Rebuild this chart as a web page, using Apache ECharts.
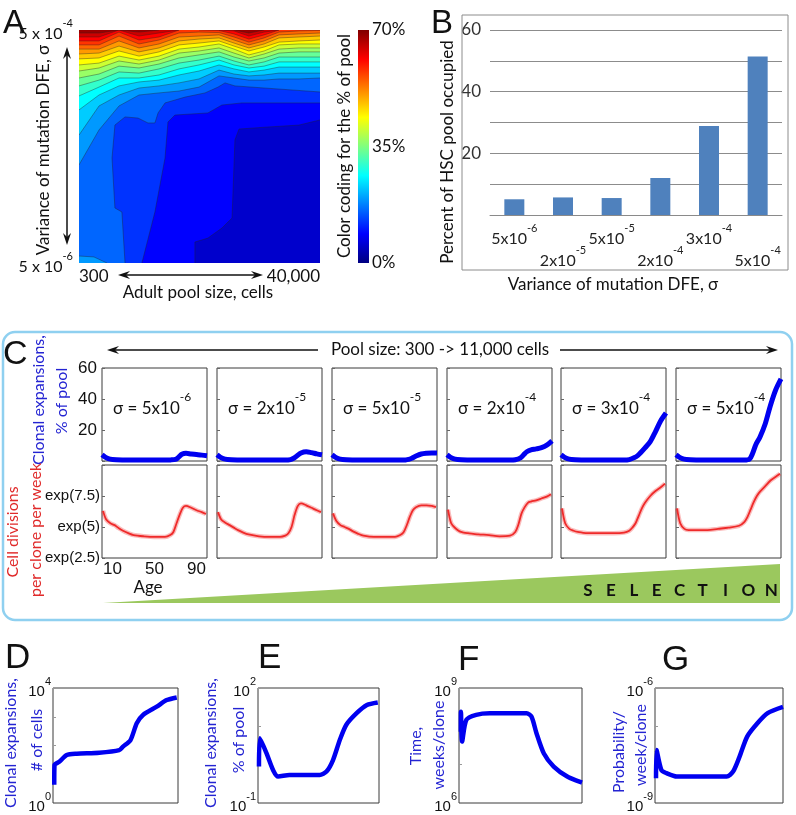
<!DOCTYPE html>
<html><head><meta charset="utf-8">
<script src="https://cdn.jsdelivr.net/npm/echarts@6.0.0/dist/echarts.min.js"></script>
<style>html,body{margin:0;padding:0;background:#fff;}#chart{width:796px;height:815px;}</style>
</head><body><div id="chart"></div>
<script>
// ================= DATA =================
// Panel A: filled contour map. x = position along log pool-size axis (0 = 300 cells, 100 = 40,000 cells)
// y = position along log sigma axis (0 = 5x10^-4 at top, 100 = 5x10^-6 at bottom)
const poolPos = [0, 8.3, 16.6, 24.9, 33.2, 41.5, 49.8, 58.1, 64.3, 70.5, 76.8, 83.0, 91.3, 100];
const upperLevels = [17.5, 21, 24.5, 28, 31.5, 35, 38.5, 42, 45.5, 49, 52.5, 56, 59.5, 63, 66.5];
const upperContours = [
  [57.9, 42.9, 32.6, 27.9, 27.0, 26.2, 24.5, 19.7, 20.6, 21.5, 21.5, 21.0, 21.0, 20.6],
  [45.1, 32.6, 27.9, 24.9, 24.0, 22.7, 21.0, 17.2, 18.9, 19.7, 19.3, 18.5, 18.5, 18.5],
  [34.3, 27.9, 24.0, 22.3, 21.5, 19.3, 17.6, 15.0, 16.7, 18.0, 17.2, 15.9, 15.9, 15.9],
  [28.3, 24.5, 20.6, 20.6, 19.3, 16.7, 15.0, 12.9, 15.0, 16.3, 15.5, 13.7, 13.7, 13.7],
  [24.0, 21.5, 18.0, 18.5, 16.7, 14.2, 12.9, 11.2, 13.3, 15.0, 13.7, 11.6, 11.6, 11.6],
  [20.6, 18.9, 15.5, 16.3, 14.6, 12.0, 10.7, 9.4, 11.6, 13.3, 12.0, 9.9, 9.4, 9.4],
  [17.6, 16.3, 13.3, 14.6, 12.9, 9.9, 9.0, 7.7, 9.9, 12.0, 10.3, 8.2, 7.7, 7.7],
  [15.0, 14.2, 11.2, 12.9, 11.2, 8.2, 7.3, 6.0, 8.2, 10.7, 9.0, 6.4, 6.0, 6.0],
  [12.4, 12.0, 9.0, 11.2, 9.4, 6.4, 5.6, 4.7, 6.9, 9.0, 7.3, 5.2, 4.7, 4.3],
  [10.3, 9.9, 6.9, 9.4, 7.7, 4.7, 3.9, 3.4, 5.6, 7.7, 6.0, 3.4, 3.0, 2.6],
  [8.2, 8.2, 4.7, 7.7, 6.0, 3.0, 2.6, 2.1, 4.3, 6.4, 4.7, 2.1, 1.7, 1.3],
  [6.4, 6.4, 2.6, 6.0, 4.3, 1.3, 0.9, 1.1, 3.0, 5.2, 3.4, 0.9, 0.4, 0.2],
  [4.7, 4.7, 0.9, 4.3, 3.0, 0, 0, 0.2, 1.7, 3.9, 2.1, 0, 0, 0],
  [3.0, 3.0, 0, 2.6, 1.3, 0, 0, 0, 0.4, 2.6, 0.9, 0, 0, 0],
  [1.3, 1.3, 0, 0.9, 0, 0, 0, 0, 0, 1.3, 0, 0, 0, 0]
];
const lowerLevels = [7, 10.5, 14, 17.5];
const lowerContours = [
  [[48.1,100],[48.1,91.0],[53.5,89.3],[59.3,85.0],[63.5,80.7],[64.7,47.2],[66.4,42.5],[78.8,41.6],[91.3,40.8],[100,38.6]],
  [[26.1,100],[31.5,78.1],[35.7,54.9],[36.9,39.5],[39.8,36.5],[53.5,35.6],[59.3,32.2],[67.6,31.3],[100,31.3]],
  [[19.1,100],[17.8,78.1],[14.9,76.4],[13.7,54.9],[14.9,40.8],[19.1,37.3],[24.5,37.8],[28.6,39.9],[31.5,39.9],[32.8,35.6],[35.7,31.3],[44.0,28.8],[52.3,27.0],[57.7,24.5],[60.6,22.7],[64.7,24.0],[100,26.6]],
  [[0,97.0],[6.2,97.4],[11.6,100]]
];
const colorbarMax = 70;

// Panel B
const sigmaMant = ['5', '2', '5', '2', '3', '5'];
const sigmaExp = ['-6', '-5', '-5', '-4', '-4', '-4'];
const poolOccupied = [5.1, 5.7, 5.5, 12.0, 28.9, 51.4];

// Panel C (top row: clonal expansions, % of pool; bottom row: log cell divisions per clone per week)
const cAgesPool = [0, 3, 6, 10, 20, 30, 40, 50, 60, 65, 70, 73, 76, 80, 85, 90, 95, 100];
const cPool = [
  [4, 2.5, 1.5, 1, 0.7, 0.6, 0.6, 0.6, 0.6, 0.7, 1.0, 2.5, 4.3, 5.0, 4.5, 4.2, 3.8, 3.4],
  [4, 2.5, 1.5, 1, 0.7, 0.6, 0.6, 0.6, 0.6, 0.6, 0.9, 1.8, 3.2, 5.2, 6.0, 5.4, 4.6, 4.0],
  [4, 2.5, 1.5, 1, 0.7, 0.6, 0.6, 0.6, 0.6, 0.6, 0.7, 1.0, 1.8, 3.2, 4.5, 5.0, 5.2, 5.1],
  [4, 2.5, 1.5, 1, 0.7, 0.6, 0.6, 0.6, 0.6, 0.8, 2.0, 4.0, 6.0, 7.2, 7.8, 8.6, 10.2, 13.0],
  [4, 2.5, 1.5, 1, 0.7, 0.6, 0.6, 0.6, 0.6, 0.9, 2.2, 3.5, 5.5, 8.5, 12.5, 19.0, 26.0, 31.0],
  [4, 2.5, 1.5, 1, 0.7, 0.6, 0.6, 0.6, 0.6, 0.6, 1.2, 5.0, 10.5, 15.5, 24.0, 36.0, 46.0, 53.0]
];
const cAgesDiv = [1, 4, 8, 12, 16, 20, 25, 30, 40, 50, 60, 65, 68, 71, 74, 77, 80, 85, 90, 95, 99];
const cDiv = [
  [6.3, 5.6, 5.3, 5.15, 4.9, 4.7, 4.5, 4.35, 4.25, 4.2, 4.2, 4.35, 4.6, 5.3, 6.0, 6.55, 6.7, 6.55, 6.35, 6.2, 6.05],
  [6.2, 5.6, 5.35, 5.15, 4.95, 4.75, 4.55, 4.4, 4.25, 4.2, 4.2, 4.3, 4.5, 5.0, 6.0, 6.7, 6.9, 6.75, 6.55, 6.35, 6.2],
  [6.1, 5.5, 5.15, 5.0, 4.85, 4.65, 4.45, 4.3, 4.2, 4.2, 4.2, 4.35, 4.55, 5.1, 5.8, 6.35, 6.6, 6.75, 6.75, 6.7, 6.6],
  [6.4, 5.3, 4.9, 4.65, 4.55, 4.5, 4.45, 4.4, 4.35, 4.25, 4.3, 4.6, 5.2, 6.1, 6.6, 6.95, 7.05, 7.15, 7.3, 7.45, 7.65],
  [6.5, 5.3, 4.85, 4.7, 4.6, 4.55, 4.5, 4.5, 4.5, 4.5, 4.55, 4.7, 4.95, 5.3, 5.9, 6.5, 6.95, 7.5, 7.9, 8.2, 8.5],
  [6.5, 5.3, 4.85, 4.75, 4.75, 4.75, 4.75, 4.75, 4.85, 4.95, 5.1, 5.4, 5.8, 6.4, 7.0, 7.5, 7.85, 8.3, 8.75, 9.05, 9.3]
];

// Panels D–G (age, value)
const dAges = [1, 1.2, 5, 11, 19, 37, 53, 56, 62, 67, 72, 83, 91, 99];
const dCells = [4.3, 21, 27, 47, 52, 56, 69, 91, 155, 590, 1150, 2240, 3800, 4700];
const eAges = [0.8, 1.5, 7, 12.5, 16.6, 26, 35, 51, 56.6, 62, 67.6, 73, 81.5, 90, 99];
const ePool = [0.9, 4.9, 2.0, 0.72, 0.49, 0.54, 0.54, 0.54, 0.66, 1.32, 4.4, 11, 22, 36, 42];
const fAges = [1.5, 1.6, 2.5, 6, 14, 25, 55, 59, 63, 69, 77, 88, 100];
const fTime = [7.2e7, 2.4e8, 4e7, 1.48e8, 2e8, 2.19e8, 2.19e8, 1.78e8, 6.6e7, 1.95e7, 8.9e6, 4.9e6, 3.4e6];
const gAges = [0.8, 1.2, 5, 9, 17, 35, 56, 61, 66, 72, 80, 88, 100];
const gProb = [4.4e-9, 2.4e-8, 7.2e-9, 6e-9, 4.9e-9, 4.9e-9, 4.9e-9, 6.6e-9, 1.6e-8, 5.4e-8, 1.2e-7, 2.2e-7, 3.2e-7];

// ================= RENDER =================
const TXT = 'Lato, "Open Sans", sans-serif';
const NUM = '"Liberation Sans", Arial, sans-serif';
const BLUE_TXT = '#2424d2', RED_TXT = '#e02a2a';
const LINE_BLUE = '#0000f0', LINE_RED = '#ee2222';

function jet(t) {
  const c = v => Math.round(255 * Math.max(0, Math.min(1, v)));
  return 'rgb(' + c(1.5 - Math.abs(4 * t - 3)) + ',' + c(1.5 - Math.abs(4 * t - 2)) + ',' + c(1.5 - Math.abs(4 * t - 1)) + ')';
}
function supRich(fs, sfs, fam, color) {
  return {
    m: { fontSize: fs, fontFamily: fam, lineHeight: Math.round(fs * 1.5), verticalAlign: 'bottom', color: color || '#111' },
    s: { fontSize: sfs, fontFamily: fam, lineHeight: sfs + 1, verticalAlign: 'top', color: color || '#111' },
    g: { fontSize: fs, lineHeight: Math.round(fs * 1.4) }
  };
}

const grids = [], xAxes = [], yAxes = [], series = [];
function addGrid(g, xa, ya) {
  const i = grids.length;
  grids.push(g);
  xAxes.push(Object.assign({ gridIndex: i }, xa));
  yAxes.push(Object.assign({ gridIndex: i }, ya));
  return i;
}
const noLine = { show: false };

// ---- Panel A contour ----
const contourItems = [{ level: 3.5, pts: null }];
lowerLevels.forEach((lv, i) => contourItems.push({ level: lv, pts: lowerContours[i] }));
upperLevels.forEach((lv, i) => contourItems.push({ level: lv, pts: poolPos.map((x, j) => [x, upperContours[i][j]]) }));
contourItems.sort((a, b) => a.level - b.level);

const gA = addGrid({ left: 79, top: 30, width: 241, height: 233 },
  { type: 'value', min: 0, max: 100, interval: 100, axisLine: noLine, axisTick: noLine, splitLine: noLine,
    axisLabel: { formatter: v => v === 0 ? '300' : '40,000', alignMinLabel: 'left', alignMaxLabel: 'right', fontSize: 17, fontFamily: TXT, color: '#111', margin: 5 } },
  { type: 'value', inverse: true, min: 0, max: 100, interval: 100, axisLine: noLine, axisTick: noLine, splitLine: noLine,
    axisLabel: { formatter: v => '{m|5 x 10}{s|' + (v === 0 ? '-4' : '-6') + '}', rich: supRich(16, 11, TXT), margin: 6 } });
series.push({
  type: 'custom', xAxisIndex: gA, yAxisIndex: gA, silent: true, clip: true,
  data: contourItems.map(() => [50, 50]),
  renderItem: function (params, api) {
    const it = contourItems[params.dataIndex];
    const color = jet((it.level + 1.75) / colorbarMax);
    let poly;
    if (!it.pts) poly = [[0, 0], [100, 0], [100, 100], [0, 100]];
    else {
      const f = it.pts[0], l = it.pts[it.pts.length - 1];
      let close = [];
      if (l[0] === 100 && f[0] === 0) close = [[100, 0], [0, 0]];
      else if (l[0] === 100 && f[1] === 100) close = [[100, 0], [0, 0], [0, 100]];
      else if (l[1] === 100 && f[0] === 0) close = [[0, 100]];
      poly = it.pts.concat(close);
    }
    const children = [{ type: 'polygon', shape: { points: poly.map(p => api.coord(p)) }, style: { fill: color } }];
    if (it.pts) {
      let run = [];
      for (let k = 0; k < it.pts.length; k++) {
        const p = it.pts[k], q = it.pts[k + 1];
        run.push(api.coord(p));
        if (!q || (p[1] <= 0 && q[1] <= 0)) {
          if (run.length > 1) children.push({ type: 'polyline', shape: { points: run }, style: { stroke: '#222', lineWidth: 0.7, opacity: 0.55, fill: null } });
          run = [];
        }
      }
    }
    return { type: 'group', children: children };
  }
});

// ---- colorbar ----
const jetStops = [0, 0.125, 0.375, 0.625, 0.875, 1].map(o => ({ offset: o, color: jet(o) }));
const gCb = addGrid({ left: 358, top: 30, width: 11, height: 233 },
  { type: 'category', data: [''], show: false },
  { type: 'value', min: 0, max: colorbarMax, interval: 35, position: 'right', axisLine: noLine, axisTick: noLine, splitLine: noLine,
    axisLabel: { formatter: '{value}%', fontSize: 17, fontFamily: TXT, color: '#111', margin: 3 } });
series.push({ type: 'bar', xAxisIndex: gCb, yAxisIndex: gCb, data: [colorbarMax], barWidth: '100%', silent: true,
  itemStyle: { color: { type: 'linear', x: 0, y: 1, x2: 0, y2: 0, colorStops: jetStops } } });

// ---- Panel B ----
const gB = addGrid({ left: 490, top: 30, width: 292, height: 185 },
  { type: 'category', data: sigmaMant.map((m, i) => m + 'x10^' + sigmaExp[i]),
    axisLine: { lineStyle: { color: '#8a8a8a' } }, axisTick: { length: 4, lineStyle: { color: '#8a8a8a' } },
    axisLabel: { interval: 0, margin: 8, rich: supRich(16, 11, TXT, '#222'),
      formatter: (v, i) => (i % 2 ? '{g|}\n' : '') + '{m|' + sigmaMant[i] + 'x10}{s|' + sigmaExp[i] + '}' } },
  { type: 'value', min: 0, max: 60, interval: 10, axisLine: noLine, axisTick: noLine,
    splitLine: { lineStyle: { color: '#8c8c8c' } },
    axisLabel: { formatter: v => (v === 20 || v === 40 || v === 60) ? String(v) : '', fontSize: 17, fontFamily: TXT, color: '#333', margin: 9 } });
series.push({ type: 'bar', xAxisIndex: gB, yAxisIndex: gB, data: poolOccupied, barWidth: 20, itemStyle: { color: '#4f81bd' } });

// ---- Panel C ----
const cLefts = [102, 217, 332, 447, 561, 676];
const boxGrid = { show: true, borderColor: '#3a3a3a', borderWidth: 1, backgroundColor: 'transparent' };
cLefts.forEach((L, i) => {
  const g = addGrid(Object.assign({ left: L, top: 368, width: 105, height: 93 }, boxGrid),
    { type: 'value', min: 0, max: 100, show: false },
    { type: 'value', min: 0, max: 60, interval: 20, axisLine: noLine, splitLine: noLine,
      axisTick: { inside: true, length: 3, lineStyle: { color: '#666' } },
      axisLabel: { show: i === 0, formatter: v => v === 0 ? '' : String(v), fontSize: 17, fontFamily: NUM, color: '#111', margin: 5 } });
  series.push({ type: 'line', xAxisIndex: g, yAxisIndex: g, data: cAgesPool.map((a, k) => [a, cPool[i][k]]),
    showSymbol: false, smooth: 0.3, lineStyle: { color: LINE_BLUE, width: 5 }, silent: true });
});
cLefts.forEach((L, i) => {
  const g = addGrid(Object.assign({ left: L, top: 465, width: 105, height: 93 }, boxGrid),
    { type: 'value', min: 0, max: 100, interval: 10, axisLine: noLine, axisTick: noLine, splitLine: noLine,
      axisLabel: { show: i === 0, formatter: v => (v === 10 || v === 50 || v === 90) ? String(v) : '', fontSize: 17, fontFamily: NUM, color: '#111', margin: 3 } },
    { type: 'value', min: 2.5, max: 10, interval: 2.5, axisLine: noLine, splitLine: noLine,
      axisTick: { inside: true, length: 3, lineStyle: { color: '#666' } },
      axisLabel: { show: i === 0, formatter: v => v === 10 ? '' : 'exp(' + v + ')', fontSize: 15, fontFamily: NUM, color: '#111', margin: 2 } });
  const pts = cAgesDiv.map((a, k) => [a, cDiv[i][k]]);
  series.push({ type: 'line', xAxisIndex: g, yAxisIndex: g, data: pts,
    showSymbol: false, smooth: 0.3, lineStyle: { color: LINE_RED, width: 4.5, opacity: 0.3 }, silent: true });
  series.push({ type: 'line', xAxisIndex: g, yAxisIndex: g, data: pts,
    showSymbol: false, smooth: 0.3, lineStyle: { color: LINE_RED, width: 1.8, opacity: 0.95 }, silent: true });
});

// ---- Panels D–G ----
function logPanel(box, min, max, ages, vals) {
  const g = addGrid(Object.assign({}, box, boxGrid),
    { type: 'value', min: 0, max: 100, show: false },
    { type: 'log', logBase: 10, min: min, max: max, axisLine: noLine, splitLine: noLine,
      axisTick: { inside: true, length: 3, lineStyle: { color: '#999' } },
      axisLabel: { rich: supRich(15, 11, NUM), margin: 2,
        formatter: v => { const e = Math.round(Math.log10(v)); return (e === Math.round(Math.log10(min)) || e === Math.round(Math.log10(max))) ? '{m|10}{s|' + e + '}' : ''; } } });
  series.push({ type: 'line', xAxisIndex: g, yAxisIndex: g, data: ages.map((a, k) => [a, vals[k]]),
    showSymbol: false, smooth: 0.25, lineStyle: { color: LINE_BLUE, width: 4.5 }, silent: true });
}
logPanel({ left: 53, top: 688, width: 125, height: 115 }, 1, 1e4, dAges, dCells);
logPanel({ left: 258, top: 688, width: 121, height: 115 }, 0.1, 100, eAges, ePool);
logPanel({ left: 459, top: 688, width: 123, height: 115 }, 1e6, 1e9, fAges, fTime);
logPanel({ left: 655, top: 688, width: 128, height: 115 }, 1e-9, 1e-6, gAges, gProb);

// ---- decorations / free text ----
const gfx = [];
function txt(x, y, text, o) {
  o = o || {};
  gfx.push({ type: 'text', x: x, y: y, rotation: o.rot || 0, z: 10,
    style: { text: text, font: o.font || ('17px ' + TXT), fill: o.fill || '#111', align: o.align || 'center', verticalAlign: 'middle', rich: o.rich } });
}
function arrowHead(tx, ty, dir) {
  const L = 12, W = 4, N = 8;
  let pts;
  if (dir === 'l') pts = [[tx, ty], [tx + L, ty - W], [tx + N, ty], [tx + L, ty + W]];
  if (dir === 'r') pts = [[tx, ty], [tx - L, ty - W], [tx - N, ty], [tx - L, ty + W]];
  if (dir === 'u') pts = [[tx, ty], [tx - W, ty + L], [tx, ty + N], [tx + W, ty + L]];
  if (dir === 'd') pts = [[tx, ty], [tx - W, ty - L], [tx, ty - N], [tx + W, ty - L]];
  gfx.push({ type: 'polygon', shape: { points: pts }, style: { fill: '#111' }, z: 10 });
}
function seg(x1, y1, x2, y2, color, w) {
  gfx.push({ type: 'line', shape: { x1: x1, y1: y1, x2: x2, y2: y2 }, style: { stroke: color || '#111', lineWidth: w || 1.5 }, z: 10 });
}
const LET = '"Liberation Sans", Arial, sans-serif';
txt(3, 24, 'A', { font: '33px ' + LET, align: 'left' });
txt(431, 24, 'B', { font: '33px ' + LET, align: 'left' });
txt(3, 355, 'C', { font: '34px ' + LET, align: 'left' });
txt(5, 658, 'D', { font: '35px ' + LET, align: 'left' });
txt(258, 658, 'E', { font: '35px ' + LET, align: 'left' });
txt(458, 660, 'F', { font: '35px ' + LET, align: 'left' });
txt(662, 660, 'G', { font: '35px ' + LET, align: 'left' });

// Panel A arrows & names
seg(67, 54, 67, 238); arrowHead(67, 47, 'u'); arrowHead(67, 245, 'd');
seg(125, 275, 256, 275); arrowHead(118, 275, 'l'); arrowHead(263, 275, 'r');
txt(44, 150, 'Variance of mutation DFE, σ', { rot: Math.PI / 2 });
txt(198, 293, 'Adult pool size, cells');
txt(345, 146, 'Color coding for the % of pool', { rot: Math.PI / 2 });

// Panel B frame & names
gfx.push({ type: 'rect', shape: { x: 462, y: 15, width: 326, height: 255 }, style: { fill: null, stroke: '#8c8c8c', lineWidth: 1 }, z: 1 });
txt(448, 152, 'Percent of HSC pool occupied', { rot: Math.PI / 2 });
txt(613, 285, 'Variance of mutation DFE, σ');

// Panel C frame, arrow, labels
gfx.push({ type: 'rect', shape: { x: 3, y: 332, width: 789, height: 288, r: 12 }, style: { fill: null, stroke: '#8fd0f0', lineWidth: 2.5 }, z: 1 });
seg(114, 350, 318, 350); arrowHead(107, 350, 'l');
txt(440, 350, 'Pool size: 300 -> 11,000 cells');
seg(560, 350, 771, 350); arrowHead(778, 350, 'r');
cLefts.forEach((L, i) => txt(L + 11, 404, '{m|σ = ' + sigmaMant[i] + 'x10}{s|' + sigmaExp[i] + '}', { align: 'left', rich: supRich(17, 12, TXT) }));
txt(39, 400, 'Clonal expansions,', { rot: Math.PI / 2, fill: BLUE_TXT, font: '16px ' + TXT });
txt(62, 401, '% of pool', { rot: Math.PI / 2, fill: BLUE_TXT, font: '16px ' + TXT });
txt(13, 532, 'Cell divisions', { rot: Math.PI / 2, fill: RED_TXT, font: '16px ' + TXT });
txt(36, 530, 'per clone per week', { rot: Math.PI / 2, fill: RED_TXT, font: '16px ' + TXT });
txt(148, 588, 'Age');
gfx.push({ type: 'polygon', shape: { points: [[103, 603], [780, 564], [780, 603]] }, style: { fill: '#9bc85e' }, z: 2 });
'SELECTION'.split('').forEach((ch, i) => txt(588 + i * 22.9, 591, ch, { font: 'bold 17px ' + TXT }));

// Panels D–G names
txt(11, 743, 'Clonal expansions,', { rot: Math.PI / 2, fill: BLUE_TXT, font: '16px ' + TXT });
txt(37, 740, '# of cells', { rot: Math.PI / 2, fill: BLUE_TXT, font: '16px ' + TXT });
txt(211, 743, 'Clonal expansions,', { rot: Math.PI / 2, fill: BLUE_TXT, font: '16px ' + TXT });
txt(239, 740, '% of pool', { rot: Math.PI / 2, fill: BLUE_TXT, font: '16px ' + TXT });
txt(416, 746, 'Time,', { rot: Math.PI / 2, fill: BLUE_TXT, font: '16px ' + TXT });
txt(439, 745, 'weeks/clone', { rot: Math.PI / 2, fill: BLUE_TXT, font: '16px ' + TXT });
txt(619, 752, 'Probability/', { rot: Math.PI / 2, fill: BLUE_TXT, font: '16px ' + TXT });
txt(641, 745, 'week/clone', { rot: Math.PI / 2, fill: BLUE_TXT, font: '16px ' + TXT });

const chart = echarts.init(document.getElementById('chart'), null, { renderer: 'canvas' });
chart.setOption({
  animation: false,
  backgroundColor: '#fff',
  grid: grids, xAxis: xAxes, yAxis: yAxes, series: series,
  graphic: { elements: gfx }
});
</script>
</body></html>
